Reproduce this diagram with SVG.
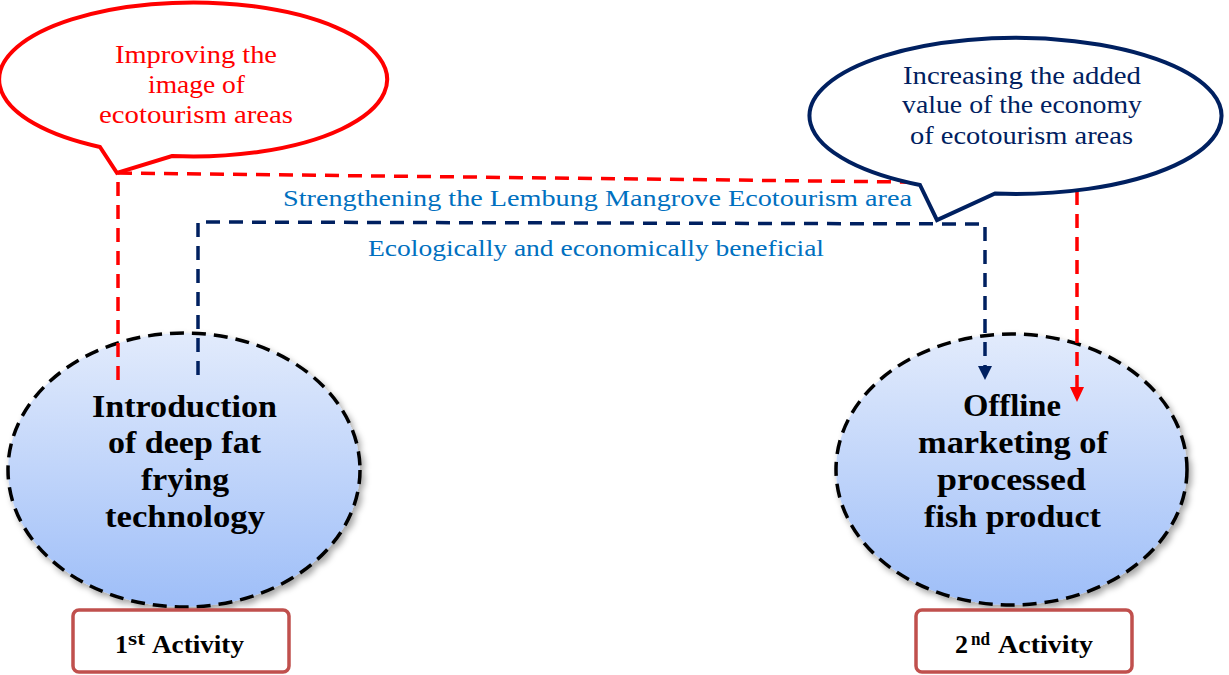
<svg xmlns="http://www.w3.org/2000/svg" width="1229" height="675" viewBox="0 0 1229 675">
<style>
.reg{font-family:"Liberation Serif","DejaVu Serif",serif;font-size:25px;}
.lbl{font-family:"Liberation Serif","DejaVu Serif",serif;font-size:24px;fill:#0070c0;}
.bold{font-family:"Liberation Serif","DejaVu Serif",serif;font-size:31px;font-weight:bold;fill:#000;}
.act{font-family:"Liberation Serif","DejaVu Serif",serif;font-size:26px;font-weight:bold;fill:#000;}
.sup{font-size:18px;}
.node{fill:url(#g);stroke:#000;stroke-width:3.5;stroke-dasharray:14 8;filter:url(#sh);}
.box{fill:#fff;stroke:#c0504d;stroke-width:3.5;}
.conn{fill:none;stroke-width:3.5;stroke-dasharray:14 9;}
</style>
<defs>
<linearGradient id="g" x1="0" y1="0" x2="0" y2="1">
<stop offset="0" stop-color="#e2ebfc"/>
<stop offset="1" stop-color="#9ebef8"/>
</linearGradient>
<filter id="sh" x="-10%" y="-10%" width="125%" height="125%">
<feDropShadow dx="3" dy="4" stdDeviation="3" flood-color="#000" flood-opacity="0.35"/>
</filter>
</defs>

<g id="node1">
<ellipse class="node" cx="184" cy="470" rx="176" ry="137"/>
<text class="bold" x="92" y="417" textLength="185" lengthAdjust="spacingAndGlyphs">Introduction</text>
<text class="bold" x="108" y="453" textLength="153" lengthAdjust="spacingAndGlyphs">of deep fat</text>
<text class="bold" x="141" y="490" textLength="88" lengthAdjust="spacingAndGlyphs">frying</text>
<text class="bold" x="105" y="527" textLength="160" lengthAdjust="spacingAndGlyphs">technology</text>
</g>

<g id="node2">
<ellipse class="node" cx="1011.5" cy="469.5" rx="175.5" ry="135.5"/>
<text class="bold" x="963" y="416" textLength="98" lengthAdjust="spacingAndGlyphs">Offline</text>
<text class="bold" x="918" y="453" textLength="190" lengthAdjust="spacingAndGlyphs">marketing of</text>
<text class="bold" x="937" y="490" textLength="149" lengthAdjust="spacingAndGlyphs">processed</text>
<text class="bold" x="924" y="527" textLength="177" lengthAdjust="spacingAndGlyphs">fish product</text>
</g>

<g id="activity1">
<rect class="box" x="73" y="610" width="216" height="62" rx="6"/>
<text class="act" y="653"><tspan x="115">1</tspan><tspan class="sup" x="128" y="645" textLength="17" lengthAdjust="spacingAndGlyphs">st</tspan><tspan x="152" y="653" textLength="92" lengthAdjust="spacingAndGlyphs">Activity</tspan></text>
</g>

<g id="activity2">
<rect class="box" x="916" y="610" width="216" height="62" rx="6"/>
<text class="act" y="653"><tspan x="955">2</tspan><tspan class="sup" x="971" y="645" textLength="19" lengthAdjust="spacingAndGlyphs">nd</tspan><tspan x="998" y="653" textLength="95" lengthAdjust="spacingAndGlyphs">Activity</tspan></text>
</g>

<g id="connectors">
<polyline class="conn" stroke="#ff0000" points="118,380 118,173 1077,184 1077,388"/>
<path d="M1070 387 L1084 387 L1077 402 Z" fill="#ff0000"/>
<polyline class="conn" stroke="#002060" points="198,375 198,222 985,224 985,366"/>
<path d="M978 366 L992 366 L985 380 Z" fill="#002060"/>
</g>

<g id="label1">
<text class="lbl" x="283" y="206" textLength="629" lengthAdjust="spacingAndGlyphs">Strengthening the Lembung Mangrove Ecotourism area</text>
</g>
<g id="label2">
<text class="lbl" x="368" y="256" textLength="456" lengthAdjust="spacingAndGlyphs">Ecologically and economically beneficial</text>
</g>

<g id="callout1">
<path d="M100 147 L117 173 L172 156 A194 77 0 1 0 100 147 Z" fill="#fff" stroke="#ff0000" stroke-width="4" stroke-linejoin="miter"/>
<text class="reg" fill="#ff0000" x="115" y="63" textLength="162" lengthAdjust="spacingAndGlyphs">Improving the</text>
<text class="reg" fill="#ff0000" x="148" y="93" textLength="97" lengthAdjust="spacingAndGlyphs">image of</text>
<text class="reg" fill="#ff0000" x="99" y="123" textLength="194" lengthAdjust="spacingAndGlyphs">ecotourism areas</text>
</g>

<g id="callout2">
<path d="M920 185 L937 220 L995 193.5 A206 78 0 1 0 920 185 Z" fill="#fff" stroke="#002060" stroke-width="4" stroke-linejoin="miter"/>
<text class="reg" fill="#002060" x="903" y="84" textLength="238" lengthAdjust="spacingAndGlyphs">Increasing the added</text>
<text class="reg" fill="#002060" x="902" y="113" textLength="240" lengthAdjust="spacingAndGlyphs">value of the economy</text>
<text class="reg" fill="#002060" x="910" y="144" textLength="223" lengthAdjust="spacingAndGlyphs">of ecotourism areas</text>
</g>
</svg>
